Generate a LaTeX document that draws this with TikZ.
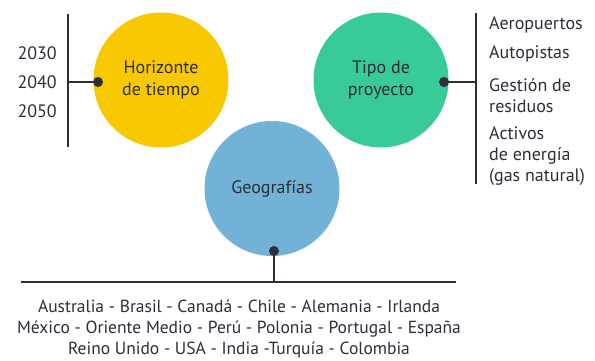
\documentclass[tikz,border=0pt]{standalone}
\usepackage{fontspec}
\setmainfont{PT Sans}
\definecolor{ink}{HTML}{2E2D3A}
\definecolor{cyellow}{HTML}{F8C800}
\definecolor{cgreen}{HTML}{38CB98}
\definecolor{cblue}{HTML}{72B2D6}
\begin{document}
\begin{tikzpicture}[x=1pt,y=-1pt,
  bubble/.style={circle,minimum size=135pt,inner sep=0pt,text=ink,align=center,font=\fontsize{18}{21.5}\selectfont},
  conn/.style={draw=ink,line width=2.6pt},
  dotc/.style={circle,fill=ink,minimum size=10pt,inner sep=0pt},
  lbl/.style={text=ink,font=\fontsize{18}{21}\selectfont,inner sep=0pt},
  blbl/.style={text=ink,font=\fontsize{17.5}{21}\selectfont,inner sep=0pt}]
\useasboundingbox (0,0) rectangle (595,360);
% circles
\node[bubble,fill=cyellow] (hor) at (161,80) {Horizonte\\de tiempo};
\node[bubble,fill=cgreen] (tipo) at (381,80) {Tipo de\\proyecto};
\node[bubble,fill=cblue] (geo) at (272,188.5) {Geografías};
% dots
\node[dotc] (d1) at (98,82) {};
\node[dotc] (d2) at (444,82) {};
\node[dotc] (d3) at (274,251) {};
% coordinates
\coordinate (v1t) at (68,14);
\coordinate (v1b) at (68,147);
\coordinate (v1m) at (68,82);
\coordinate (v2t) at (476,13);
\coordinate (v2b) at (476,184);
\coordinate (v2m) at (476,82);
\coordinate (hl) at (21,282);
\coordinate (hr) at (456,282);
\coordinate (hm) at (274,282);
% lines
\draw[conn] (v1t) -- (v1b);
\draw[conn] (v1m) -- (d1.center);
\draw[conn] (v2t) -- (v2b);
\draw[conn] (d2.center) -- (v2m);
\draw[conn] (hl) -- (hr);
\draw[conn] (d3.center) -- (hm);
% years
\node[lbl,anchor=east] (y1) at (57,53) {2030};
\node[lbl,anchor=east] (y2) at (57,82) {2040};
\node[lbl,anchor=east] (y3) at (57,111) {2050};
% right items
\node[lbl,anchor=west] (r1) at (489,25) {Aeropuertos};
\node[lbl,anchor=west] (r2) at (489,54) {Autopistas};
\node[lbl,anchor=west,align=left] (r3) at (489,95.5) {Gestión de\\residuos};
\node[lbl,anchor=west,align=left] (r4) at (489,156) {Activos\\de energía\\(gas natural)};
% bottom
\node[blbl,align=center] (countries) at (239,329) {Australia - Brasil - Canadá - Chile - Alemania - Irlanda\\México - Oriente Medio - Perú - Polonia - Portugal - España\\Reino Unido - USA - India -Turquía - Colombia};
\end{tikzpicture}
\end{document}
